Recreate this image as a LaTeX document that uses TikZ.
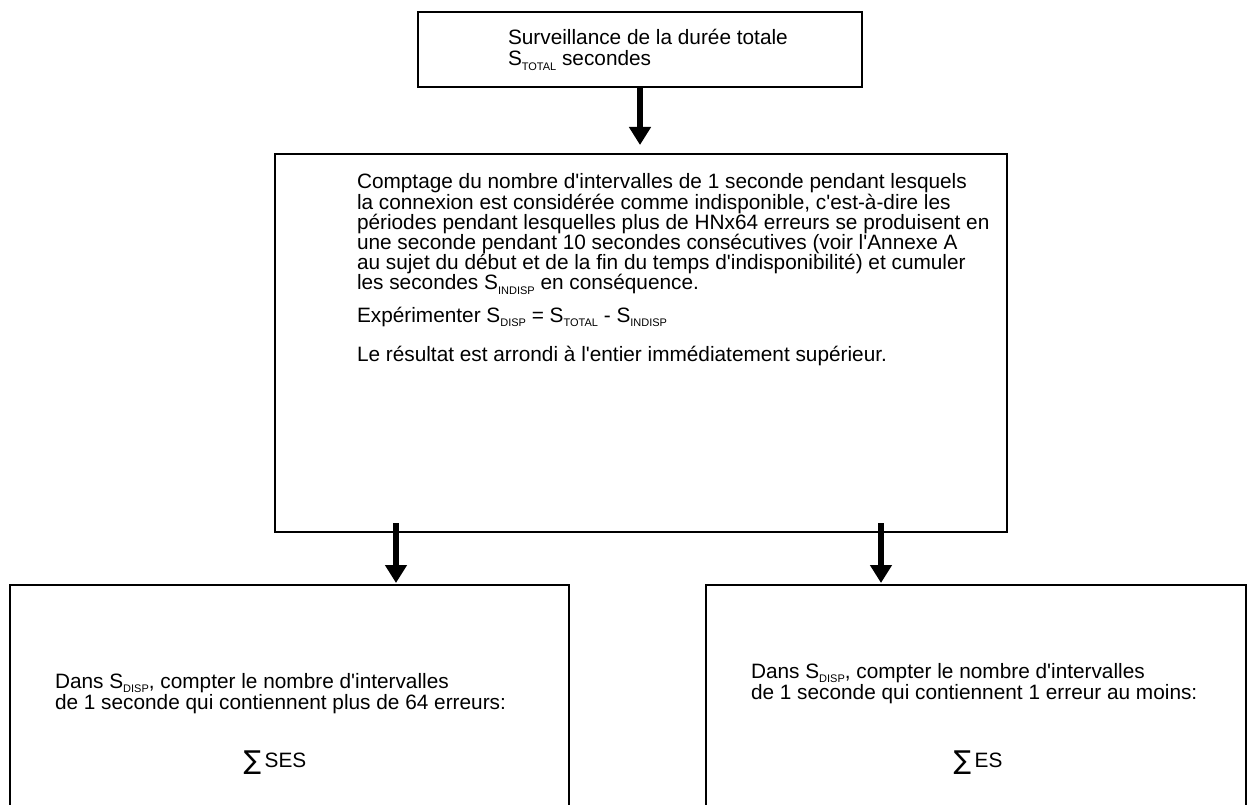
\documentclass[tikz,border=0pt]{standalone}
\usepackage{fontspec}
\setmainfont{Liberation Sans}[Ligatures=TeXOff]
\newfontfamily\symfont{DejaVu Sans}
\usetikzlibrary{arrows.meta,calc}
\newcommand\sbs[1]{\raisebox{-0.2em}{\fontsize{11}{11}\selectfont #1}}
\newcommand\ml[1]{\vtop{\lineskiplimit=-100pt\relax\lineskip=0pt\relax\halign{##\hfil\cr#1\crcr}}}
\newcommand\bigsum{\raisebox{-2.5pt}{\symfont\fontsize{26}{26}\selectfont ∑}}
\begin{document}
\begin{tikzpicture}[x=1pt,y=-1pt,
  box/.style={draw,line width=1.6pt,inner sep=0pt,outer sep=0pt,rectangle},
  txt/.style={anchor=base west,inner sep=0pt,outer sep=0pt,font=\fontsize{20.8}{20.2}\selectfont},
  ctxt/.style={anchor=base,inner sep=0pt,outer sep=0pt,font=\fontsize{20.8}{20.2}\selectfont},
  arr/.style={line width=6pt,-{Triangle[width=21pt,length=18pt]}}]
\useasboundingbox (0,0) rectangle (1256,805);
\clip (0,0) rectangle (1256,805);
% boxes
\node[box,minimum width=444pt,minimum height=75pt] (top) at (640,49.5) {};
\node[box,minimum width=732pt,minimum height=378pt] (mid) at (641,343) {};
\node[box,minimum width=559pt,minimum height=245pt] (botL) at (289.5,707.5) {};
\node[box,minimum width=540pt,minimum height=245pt] (botR) at (976,707.5) {};
% texts
\node[txt,font=\fontsize{20.8}{21}\selectfont] (t1) at (508,45) {\ml{Surveillance de la durée totale\cr S\sbs{TOTAL} secondes}};
\node[txt] (m1) at (357,189) {\ml{Comptage du nombre d'intervalles de 1 seconde pendant lesquels\cr
la connexion est considérée comme indisponible, c'est-à-dire les\cr
périodes pendant lesquelles plus de HNx64 erreurs se produisent en\cr
une seconde pendant 10 secondes consécutives (voir l'Annexe A\cr
au sujet du début et de la fin du temps d'indisponibilité) et cumuler\cr
les secondes S\sbs{INDISP} en conséquence.}};
\node[txt] (m2) at (357,322) {Expérimenter S\sbs{DISP} = S\sbs{TOTAL} - S\sbs{INDISP}};
\node[txt] (m3) at (357,361) {Le résultat est arrondi à l'entier immédiatement supérieur.};
\node[txt,font=\fontsize{20.8}{21}\selectfont] (l1) at (55,688) {\ml{Dans S\sbs{DISP}, compter le nombre d'intervalles\cr de 1 seconde qui contiennent plus de 64 erreurs:}};
\node[ctxt] (l2) at (275,767) {\bigsum\,SES};
\node[txt,font=\fontsize{20.8}{21}\selectfont] (r1) at (751,678) {\ml{Dans S\sbs{DISP}, compter le nombre d'intervalles\cr de 1 seconde qui contiennent 1 erreur au moins:}};
\node[ctxt] (r2) at (978,767) {\bigsum\,ES};
% arrows
\draw[arr] (top.south) -- ($(top.south |- mid.north)+(0,-9)$);
\draw[arr] ($(mid.south)+(-245,-9)$) -- ($(botL.north)+(106.5,-2)$);
\draw[arr] ($(mid.south)+(240,-9)$) -- ($(botR.north)+(-95,-2)$);
\end{tikzpicture}
\end{document}
